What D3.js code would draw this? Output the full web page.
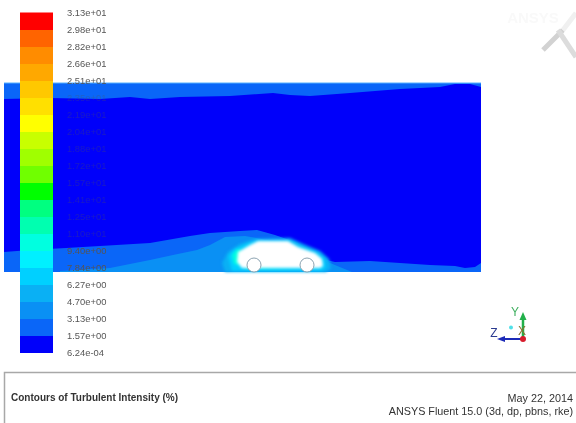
<!DOCTYPE html>
<html>
<head>
<meta charset="utf-8">
<script src="https://cdn.jsdelivr.net/npm/d3@7"></script>
<style>
  html, body { margin: 0; background: #fff; }
  svg { display: block; }
  text { font-family: "Liberation Sans", Arial, sans-serif; }
</style>
</head>
<body>
<div id="chart"></div>
<script>
// Colour bar labels, bottom to top
const levelLabels = ["6.24e-04", "1.57e+00", "3.13e+00", "4.70e+00", "6.27e+00", "7.84e+00", "9.40e+00",
    "1.10e+01", "1.25e+01", "1.41e+01", "1.57e+01", "1.72e+01", "1.88e+01", "2.04e+01", "2.19e+01",
    "2.35e+01", "2.51e+01", "2.66e+01", "2.82e+01", "2.98e+01", "3.13e+01"];

// Contour outlines as [along tunnel, height]
const topEdge = [[0, 173], [46, 174], [96, 173], [126, 175], [146, 173], [176, 175], [226, 176], [269, 179],
    [286, 177], [306, 176], [346, 179], [396, 183], [436, 185], [451, 188], [466, 188], [477, 185], [477, 189], [0, 189]];
const wakeOuter = [[0, 20], [26, 22], [62, 24], [96, 26], [146, 29], [186, 36], [206, 39], [236, 41], [253, 42],
    [271, 37], [291, 30], [306, 22], [318, 13], [331, 10], [366, 11], [396, 9], [426, 7], [451, 6], [461, 4],
    [471, 5], [477, 9], [477, 0], [0, 0]];
const wakeMiddle = [[56, 1], [106, 4], [146, 12], [169, 17], [193, 22], [206, 27], [221, 35], [241, 36], [258, 33],
    [281, 27], [296, 20], [314, 13], [326, 9], [348, 0], [56, 0]];
const wakeInner = [[218, 9], [224, 20], [236, 28], [251, 33], [286, 34], [299, 28], [316, 21], [325, 13], [327, 4],
    [322, 0], [221, 0]];
const carHalo = [[224, 16], [230, 23], [244, 29], [254, 32], [284, 32], [295, 26], [312, 20], [320, 14], [322, 5],
    [318, 1], [228, 1]];
const noseHalo = [[228, 17], [233, 23], [238, 22], [236, 10], [242, 3], [300, 2], [246, 4], [230, 8]];
const carBody = [[234, 20], [246, 27], [254, 31], [284, 31], [294, 25], [311, 19], [318, 13], [319, 6], [316, 4],
    [238, 4], [233, 10]];
const wheels = [[250, 7], [303, 7]];

// Turbulent intensity of each contour, in %
const contourValues = [2.3, 3.8, 5.5, 7, 10];

const bandColours = ["#0000fa", "#0a66f8", "#0a90f4", "#0ab0f4", "#00d0ff", "#00f0ff", "#00ffe0", "#00ffb0", "#00ff80",
    "#00ff00", "#70ff00", "#a0ff00", "#c8ff00", "#ffff00", "#ffe000", "#ffc800", "#ffa800", "#ff8c00", "#ff6400", "#ff0000"];

const width = 576, height = 423;

const svg = d3.select("#chart").append("svg")
    .attr("width", width)
    .attr("height", height);

// Scales
const zScale = d3.scaleLinear().domain([0, 477]).range([4, 481]);
const hScale = d3.scaleLinear().domain([0, 189]).range([272, 83]);
const barScale = d3.scaleLinear().domain([0, 20]).range([352.5, 12.5]);
const levelValues = levelLabels.map(Number);
const colourScale = d3.scaleThreshold().domain(levelValues.slice(1, -1)).range(bandColours);

const outline = d3.line()
    .x(d => zScale(d[0]))
    .y(d => hScale(d[1]))
    .curve(d3.curveLinearClosed);

// Watermark top right
const mark = svg.append("g").attr("fill", "none").style("filter", "blur(0.6px)");
mark.append("text")
    .attr("x", 533).attr("y", 23)
    .attr("text-anchor", "middle")
    .attr("font-size", 15)
    .attr("font-weight", "bold")
    .attr("fill", "#f9f9f9")
    .text("ANSYS");
[[[543, 50], [563, 30], "#d2d2d2", 5], [[563, 30], [576, 13], "#f0f0f0", 5], [[558, 30], [576, 57], "#dcdcdc", 5]]
    .forEach(l => mark.append("path")
        .attr("d", d3.line()([l[0], l[1]]))
        .attr("stroke", l[2])
        .attr("stroke-width", l[3]));

// Contours
const field = svg.append("g").style("filter", "blur(0.5px)");
field.append("rect")
    .attr("x", zScale(0))
    .attr("y", hScale(189))
    .attr("width", zScale(477) - zScale(0))
    .attr("height", hScale(0) - hScale(189))
    .attr("fill", bandColours[0]);

const layers = [
    { points: topEdge, value: contourValues[0] },
    { points: wakeOuter, value: contourValues[0] },
    { points: wakeMiddle, value: contourValues[1] }
];
field.selectAll("path.contour")
    .data(layers)
    .join("path")
    .attr("class", "contour")
    .attr("d", d => outline(d.points))
    .attr("fill", d => colourScale(d.value));

field.append("line")
    .attr("x1", zScale(0)).attr("x2", zScale(477))
    .attr("y1", hScale(189)).attr("y2", hScale(189))
    .attr("stroke", "#55b0ff");

// Softer layers hugging the car
const nearCar = svg.append("g").style("filter", "blur(1.5px)");
nearCar.selectAll("path.contour")
    .data([
        { points: wakeInner, value: contourValues[2] },
        { points: carHalo, value: contourValues[3] },
        { points: noseHalo, value: contourValues[4] }
    ])
    .join("path")
    .attr("class", "contour")
    .attr("d", d => outline(d.points))
    .attr("fill", d => colourScale(d.value));
nearCar.append("path")
    .attr("d", outline(carBody))
    .attr("fill", "#fff");

svg.append("g").style("filter", "blur(0.4px)").selectAll("circle")
    .data(wheels)
    .join("circle")
    .attr("cx", d => zScale(d[0]))
    .attr("cy", d => hScale(d[1]))
    .attr("r", 7)
    .attr("fill", "#fff")
    .attr("stroke", "#7f98a8")
    .attr("stroke-width", 0.9);

// Colour bar
svg.append("g").style("filter", "blur(0.4px)").selectAll("rect")
    .data(bandColours)
    .join("rect")
    .attr("x", 20)
    .attr("width", 33)
    .attr("y", (d, i) => barScale(i + 1))
    .attr("height", (d, i) => barScale(i) - barScale(i + 1) + 0.5)
    .attr("fill", d => d);

const barAxis = svg.append("g")
    .attr("transform", "translate(53,0)")
    .style("filter", "blur(0.3px)")
    .call(d3.axisRight(barScale)
        .tickValues(d3.range(levelLabels.length))
        .tickFormat(i => levelLabels[i])
        .tickSize(0)
        .tickPadding(14));
barAxis.select(".domain").remove();
barAxis.selectAll("text")
    .attr("font-family", "Liberation Sans")
    .attr("font-size", 9.4)
    .attr("fill", "#555")
    .attr("opacity", i => (i >= 7 && i <= 15) ? 0.3 : 1);

// Axes triad
const triad = svg.append("g").style("filter", "blur(0.4px)");
triad.append("path").attr("d", "M523,339V317").attr("stroke", "#22b04a").attr("stroke-width", 2.5);
triad.append("path").attr("d", "M523,312l-3.5,8h7z").attr("fill", "#22b04a");
triad.append("path").attr("d", "M523,339H502").attr("stroke", "#1c2ab8").attr("stroke-width", 2);
triad.append("path").attr("d", "M497,339l8,-3v6z").attr("fill", "#1c2ab8");
triad.append("circle").attr("cx", 523).attr("cy", 339).attr("r", 3).attr("fill", "#d81c2c");
triad.append("circle").attr("cx", 511).attr("cy", 327.5).attr("r", 2).attr("fill", "#50e0e8");
[["Y", 515, 316, "#40b060"], ["X", 522, 335, "#8a7030"], ["Z", 494, 337, "#2a3a90"]].forEach(t => {
    triad.append("text")
        .attr("x", t[1]).attr("y", t[2])
        .attr("text-anchor", "middle")
        .attr("font-size", 12)
        .attr("fill", t[3])
        .text(t[0]);
});

// Caption box
const box = svg.append("g").style("filter", "blur(0.3px)");
box.append("path")
    .attr("d", `M4.5,${height}V372.5H${width}`)
    .attr("fill", "none")
    .attr("stroke", "#a8a8a8")
    .attr("stroke-width", 1.5);
box.append("text")
    .attr("x", 11).attr("y", 401)
    .attr("font-size", 10)
    .attr("font-weight", "bold")
    .attr("fill", "#333")
    .text("Contours of Turbulent Intensity (%)");
box.append("text")
    .attr("x", 573).attr("y", 401.5)
    .attr("text-anchor", "end")
    .attr("font-size", 10.8)
    .attr("fill", "#333")
    .text("May 22, 2014");
box.append("text")
    .attr("x", 573).attr("y", 414.5)
    .attr("text-anchor", "end")
    .attr("font-size", 10.8)
    .attr("fill", "#333")
    .text("ANSYS Fluent 15.0 (3d, dp, pbns, rke)");
</script>
</body>
</html>
